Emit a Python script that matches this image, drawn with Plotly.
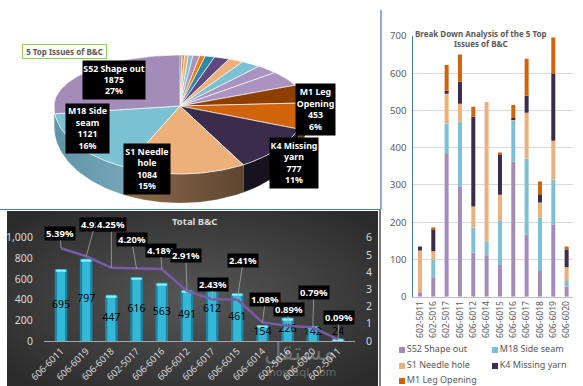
import base64, math
import plotly.graph_objects as go

# ---------- data ----------
pie_values = [15, 25, 35, 40, 60, 50, 85, 135, 135, 175, 195, 330, 400, 453, 777, 1084, 1121, 1875]
pie_colors = ["#3b2c4e", "#d1640b", "#eeb07a", "#7cc0d3", "#aa93c0", "#ec7c14", "#2e88a6", "#5f4880",
              "#eeb07a", "#7cc0d3", "#aa93c0", "#aa93c0", "#8e3f00", "#d1640b", "#3b2c4e", "#eeb07a", "#7cc0d3", "#a48cb8"]
pie_labels = ["M1 Leg<br>Opening<br>453<br>6%", "K4 Missing<br>yarn<br>777<br>11%", "S1 Needle<br>hole<br>1084<br>15%",
              "M18 Side<br>seam<br>1121<br>16%", "S52 Shape out<br>1875<br>27%"]

total_cats = ["606-6011", "606-6019", "606-6018", "602-5017", "606-6016", "606-6012",
              "606-6017", "606-6015", "606-6014", "602-5016", "606-6020", "602-5011"]
total_vals = [695, 797, 447, 616, 563, 491, 612, 461, 154, 226, 142, 24]
total_pct = [5.39, 4.92, 4.25, 4.20, 4.18, 2.91, 2.43, 2.41, 1.08, 0.89, 0.79, 0.09]

break_cats = ["602-5011", "602-5016", "602-5017", "606-6011", "606-6012", "606-6014",
              "606-6015", "606-6016", "606-6017", "606-6018", "606-6019", "606-6020"]
s52 = [12, 52, 385, 296, 119, 111, 85, 363, 167, 69, 194, 27]
m18 = [0, 48, 80, 174, 67, 38, 118, 110, 204, 144, 121, 15]
s1 = [112, 22, 80, 48, 56, 374, 71, 4, 123, 40, 104, 37]
k4 = [11, 59, 8, 59, 241, 0, 108, 3, 46, 22, 179, 48]
m1 = [0, 5, 69, 73, 27, 0, 5, 35, 99, 34, 98, 8]

W, H = 583, 386
FONT = "Noto Sans"
fig = go.Figure()

# ---------- overlay pixel axis: 3D-looking pie built from the values ----------
cx, cy, rx, ry_top, ry_bot = 180, 106, 126, 51, 68
def pt(theta):
    s, c = math.sin(theta), math.cos(theta)
    return cx + rx * s, cy - (ry_top * c if c > 0 else ry_bot * c)
def depth(theta):
    return 20 + 9 * max(0, -math.cos(theta))

tot = sum(pie_values)
edges = [0]
for v in pie_values:
    edges.append(edges[-1] + v / tot * 2 * math.pi)

walls = {15: ("#8f6c4c", "#5d4631"), 14: ("#16121e", "#16121e"), 16: ("#5f93a7", "#76a5b8"), 17: ("#6f9fb2", "#6f9fb2")}
for i in range(len(pie_values)):
    t0, t1 = edges[i], edges[i + 1]
    n = max(4, int((t1 - t0) * 40))
    th = [t0 + (t1 - t0) * k / n for k in range(n + 1)]
    front = [t for t in th if math.pi / 2 <= t <= 3 * math.pi / 2]
    if len(front) > 1:
        top = [pt(t) for t in front]
        xs = [p[0] for p in top] + [p[0] for p in reversed(top)]
        ys = [p[1] for p in top] + [p[1] + depth(t) for p, t in zip(reversed(top), reversed(front))]
        a, b = walls.get(i, ("#6f4a20", "#6f4a20"))
        fig.add_trace(go.Scatter(x=xs, y=ys, mode="lines", fill="toself", line=dict(color="rgba(255,255,255,0.35)", width=0.5),
                                 fillgradient=dict(type="horizontal", colorscale=[[0, a], [1, b]]),
                                 hoverinfo="skip", showlegend=False, xaxis="x3", yaxis="y3"))
for i in range(len(pie_values)):
    t0, t1 = edges[i], edges[i + 1]
    n = max(4, int((t1 - t0) * 40))
    arc = [pt(t0 + (t1 - t0) * k / n) for k in range(n + 1)]
    xs = [cx] + [p[0] for p in arc] + [cx]
    ys = [cy] + [p[1] for p in arc] + [cy]
    fig.add_trace(go.Scatter(x=xs, y=ys, mode="lines", fill="toself", fillcolor=pie_colors[i],
                             line=dict(color="rgba(255,255,255,0.8)", width=0.8),
                             hoverinfo="skip", showlegend=False, xaxis="x3", yaxis="y3"))

# ---------- lower chart ----------
outer = "#1d84a3"; inner = "#33b8d8"; cap = "#8ff0f8"
fig.add_trace(go.Bar(x=total_cats, y=total_vals, width=0.5, marker=dict(color=outer, line_width=0), showlegend=False, xaxis="x", yaxis="y"))
fig.add_trace(go.Bar(x=total_cats, y=total_vals, width=0.32, marker=dict(color=inner, line_width=0), showlegend=False, xaxis="x", yaxis="y"))
fig.add_trace(go.Bar(x=total_cats, y=[14] * 12, base=[v - 22 for v in total_vals], width=0.42,
                     marker=dict(color=cap, line_width=0), showlegend=False, xaxis="x", yaxis="y"))
fig.add_trace(go.Scatter(x=total_cats, y=[max(v / 2, 85) for v in total_vals], mode="text", text=[str(v) for v in total_vals],
                         textfont=dict(color="black", size=10.5, family=FONT), showlegend=False, xaxis="x", yaxis="y"))
fig.add_trace(go.Scatter(x=total_cats, y=total_pct, mode="lines", line=dict(color="#7a5aa6", width=2.5), showlegend=False, xaxis="x", yaxis="y4"))

# ---------- stacked chart ----------
series = [("S52 Shape out", s52, "#a48cb8"), ("M18 Side seam", m18, "#7cc0d3"), ("S1 Needle hole", s1, "#eeb07a"),
          ("K4 Missing yarn", k4, "#3b2c4e"), ("M1 Leg Opening", m1, "#d1640b")]
base = [0] * 12
for name, vals, col in series:
    fig.add_trace(go.Bar(x=break_cats, y=vals, base=list(base), name=name, width=0.3, marker=dict(color=col, line_width=0),
                         showlegend=False, xaxis="x2", yaxis="y2"))
    base = [b + v for b, v in zip(base, vals)]

# legend drawn as square markers with text
legend_pos = [(402, 350), (495, 350), (402, 366), (495, 366), (402, 381)]
for (name, vals, col), (lx, ly) in zip(series, legend_pos):
    fig.add_trace(go.Scatter(x=[lx], y=[ly], mode="markers+text", text=[name], textposition="middle right",
                             marker=dict(symbol="square", size=6, color=col), textfont=dict(color="#595959", size=9, family=FONT),
                             showlegend=False, hoverinfo="skip", xaxis="x3", yaxis="y3", cliponaxis=False))

# ---------- annotations ----------
ann = []
pie_boxes = [(315, 109, 39, 51), (294, 162.5, 48, 50), (147, 169, 46, 50), (87.5, 128, 43, 49), (114, 80, 62, 38)]
for txt, (x, y, w, h) in zip(pie_labels, pie_boxes):
    ann.append(dict(x=x, y=y, xref="x3", yref="y3", text=f"<b>{txt}</b>", showarrow=False, bgcolor="black", width=w, height=h,
                    borderpad=0, align="center", font=dict(color="white", size=8.8, family=FONT)))
ann.append(dict(x=64.5, y=51.5, xref="x3", yref="y3", text="<b>5 Top Issues of B&C</b>", showarrow=False, bgcolor="white",
                bordercolor="#92d050", borderwidth=1, width=83, height=13, borderpad=0, font=dict(color="#595959", size=8, family=FONT)))
ann.append(dict(x=194, y=221, xref="x3", yref="y3", text="<b>Total B&C</b>", showarrow=False, font=dict(color="#d9d9d9", size=9.5, family=FONT)))
ann.append(dict(x=481, y=38.5, xref="x3", yref="y3", text="<b>Break Down Analysis of the 5 Top<br>Issues of B&C</b>", showarrow=False,
                font=dict(color="#595959", size=8, family=FONT)))
ann.append(dict(x=300, y=352, xref="x3", yref="y3", text="مستقل", showarrow=False, font=dict(color="rgba(255,255,255,0.28)", size=24, family="DejaVu Sans")))
ann.append(dict(x=300, y=372, xref="x3", yref="y3", text="mostaql.com", showarrow=False, font=dict(color="rgba(255,255,255,0.28)", size=11, family="DejaVu Sans")))
offs = [(-1, -15), (9, -32), (0, -43), (-5, -29), (-1, -19), (-1, -35), (1, -15), (6, -39), (3, -23), (1, -16), (1, -35), (1, -22)]
for c, p, (dx, dy) in zip(total_cats, total_pct, offs):
    ann.append(dict(x=c, y=p, xref="x", yref="y4", ax=dx, ay=dy, text=f"<b>{p:.2f}%</b>", showarrow=True, arrowhead=0, arrowwidth=0.8,
                    arrowcolor="#a6a6a6", bgcolor="black", width=30, height=13, borderpad=0, xanchor="center", yanchor="middle",
                    font=dict(color="white", size=9.5, family=FONT)))

svg = ('<svg xmlns="http://www.w3.org/2000/svg" width="371" height="175"><defs><radialGradient id="g" cx="50%" cy="50%" r="65%">'
       '<stop offset="0" stop-color="#575757"/><stop offset="1" stop-color="#2b2b2b"/></radialGradient></defs>'
       '<rect width="371" height="175" fill="url(#g)"/></svg>')
src = "data:image/svg+xml;base64," + base64.b64encode(svg.encode()).decode()

def line(x0, y0, x1, y1, col, w=1.2):
    return dict(type="line", xref="x3", yref="y3", x0=x0, y0=y0, x1=x1, y1=y1, line=dict(color=col, width=w), layer="above")

grey = "#d9d9d9"
fig.update_layout(
    width=W, height=H, margin=dict(l=0, r=0, t=0, b=0), paper_bgcolor="white", plot_bgcolor="rgba(0,0,0,0)",
    barmode="overlay", font=dict(family=FONT), annotations=ann, showlegend=False,
    images=[dict(source=src, xref="paper", yref="paper", x=7 / W, y=1 - 211 / H, sizex=371 / W, sizey=175 / H, sizing="stretch", layer="below", xanchor="left", yanchor="top")],
    shapes=[line(0, 209.5, 380, 209.5, "#4a78a8"), line(381, 10, 381, 210, "#4a78a8"), line(380, 210, 380, 386, "#222")],
    xaxis3=dict(domain=[0, 1], range=[0, W], visible=False, fixedrange=True, automargin=False),
    yaxis3=dict(domain=[0, 1], range=[H, 0], visible=False, fixedrange=True, anchor="x3", automargin=False),
    xaxis=dict(domain=[44 / W, 355 / W], anchor="y", tickangle=-45, tickfont=dict(color=grey, size=9.5), showgrid=False, showline=True,
               linecolor="#a6a6a6", ticks="", categoryorder="array", categoryarray=total_cats, automargin=False),
    yaxis=dict(domain=[1 - 341 / H, 1 - 237.7 / H], anchor="x", range=[0, 1000], tickvals=[0, 200, 400, 600, 800, 1000], tickformat=",",
               tickfont=dict(color=grey, size=10.5), showgrid=False, zeroline=False, ticks="outside", ticklen=8, tickcolor="rgba(0,0,0,0)", automargin=False),
    yaxis4=dict(domain=[1 - 341 / H, 1 - 237.7 / H], anchor="x", overlaying="y", side="right", range=[0, 6], tickvals=list(range(7)), ticksuffix="%",
                tickfont=dict(color=grey, size=10.5), showgrid=False, zeroline=False, ticks="outside", ticklen=8, tickcolor="rgba(0,0,0,0)", automargin=False),
    xaxis2=dict(domain=[413.3 / W, 573.3 / W], anchor="y2", tickangle=-90, tickfont=dict(color="#595959", size=8.5), showgrid=False, showline=True,
                linecolor="#bfbfbf", ticks="", categoryorder="array", categoryarray=break_cats, automargin=False),
    yaxis2=dict(domain=[1 - 296.7 / H, 1 - 36 / H], anchor="x2", range=[0, 700], dtick=100, tickfont=dict(color="#595959", size=9.5), gridcolor="#d9d9d9",
                gridwidth=1, zeroline=False, showline=True, linecolor="#4a78a8", ticks="outside", ticklen=4, tickcolor="rgba(0,0,0,0)", automargin=False),
)
fig.write_html("out.html", config={"displayModeBar": False},
               post_script="document.body.style.margin='0';document.body.style.overflow='hidden';")
